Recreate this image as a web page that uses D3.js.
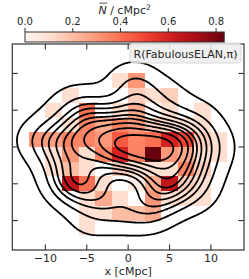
<!DOCTYPE html>
<html><head><meta charset="utf-8">
<script src="https://cdn.jsdelivr.net/npm/d3@7"></script>
<style>body{margin:0;background:#fff;} svg{display:block;font-family:"DejaVu Sans",sans-serif;}</style>
</head><body><svg id="c" width="249" height="279"></svg>
<script>
// ---- data ----
const binLeftX = [-12,-10,-8,-6,-4,-2,0,2,4,6,8,10];
const binBottomY = [8,6,4,2,0,-2,-4,-6,-8,-10,-12];
const rowY8   = [0,0,0,0,0,0.1,0.3,0,0,0,0,0];
const rowY6   = [0,0,0.1,0,0,0,0.15,0.1,0.15,0,0,0];
const rowY4   = [0,0.1,0,0.4,0,0.1,0.25,0,0.1,0,0.1,0];
const rowY2   = [0,0,0.1,0.35,0.25,0.35,0.3,0.15,0.1,0.1,0.1,0];
const rowY0   = [0.3,0.28,0.35,0.35,0.3,0.45,0.35,0.4,0.6,0.5,0.15,0.1];
const rowYm2  = [0,0.1,0.3,0.1,0.35,0.6,0.35,0.83,0.3,0.25,0.1,0.1];
const rowYm4  = [0,0.1,0.2,0.1,0,0.15,0.1,0.1,0.1,0.35,0.15,0];
const rowYm6  = [0,0,0.65,0.4,0.1,0,0.05,0.25,0.65,0.15,0.1,0];
const rowYm8  = [0,0,0,0.1,0.25,0.1,0,0.3,0.1,0.1,0.1,0];
const rowYm10 = [0,0,0,0.1,0.1,0.2,0.2,0.25,0,0,0,0];
const rowYm12 = [0,0,0,0.1,0,0,0,0,0,0,0,0];
const rows = [rowY8,rowY6,rowY4,rowY2,rowY0,rowYm2,rowYm4,rowYm6,rowYm8,rowYm10,rowYm12];
const binSize = 2;
const vmax = 0.834;
const xTicks = [-10,-5,0,5,10];
const xTickLabels = ["\u221210","\u22125","0","5","10"];
const yTicks = [-10,-5,0,5,10];
const cbarTicks = [0,0.2,0.4,0.6,0.8];
const cbarTickLabels = ["0.0","0.2","0.4","0.6","0.8"];
const legendLabel = "R(FabulousELAN,\u03c0)";
const xLabel = "x [cMpc]";
const kdeBandwidth = 2.15;
const kdeLevelCount = 11, kdeThresh = 0.04;

// ---- layout ----
const svg = d3.select("#c");
const M = {left:12.3, right:244, top:44, bottom:250};
const x = d3.scaleLinear().domain([-14,14]).range([M.left,M.right]);
const y = d3.scaleLinear().domain([-14,14]).range([M.bottom,M.top]);
const color = d3.scaleSequential(d3.interpolateReds).domain([0,vmax]);

svg.append("defs").append("clipPath").attr("id","clip").append("rect")
  .attr("x",M.left).attr("y",M.top).attr("width",M.right-M.left).attr("height",M.bottom-M.top);

// cells
const cells = [];
rows.forEach((r,i)=>r.forEach((v,j)=>{ if(v>0) cells.push({x0:binLeftX[j], y0:binBottomY[i], v}); }));
svg.append("g").selectAll("rect").data(cells).join("rect")
  .attr("x",d=>x(d.x0)).attr("y",d=>y(d.y0+binSize))
  .attr("width",d=>x(d.x0+binSize)-x(d.x0)).attr("height",d=>y(d.y0)-y(d.y0+binSize))
  .attr("fill",d=>color(d.v)).attr("shape-rendering","crispEdges");

// KDE contours from the binned values
const step = 0.2, g0 = -14, n = Math.round(28/step)+1;
const grid = new Float64Array(n*n);
for(let j=0;j<n;j++){ const gy=g0+j*step;
  for(let i=0;i<n;i++){ const gx=g0+i*step; let s=0;
    for(const c of cells){ const dx=gx-(c.x0+1), dy=gy-(c.y0+1);
      s+=c.v*Math.exp(-(dx*dx+dy*dy)/(2*kdeBandwidth*kdeBandwidth)); }
    grid[j*n+i]=s; } }
const sorted = Array.from(grid).sort((a,b)=>b-a);
const total = d3.sum(sorted);
let acc=0; const cum = sorted.map(v=>(acc+=v)/total);
const qs = d3.range(kdeLevelCount).map(k=>kdeThresh+(1-kdeThresh)*k/(kdeLevelCount-1));
const levels = qs.map(q=>{ const idx=d3.bisectLeft(cum,1-q); return sorted[Math.min(idx,sorted.length-1)]; })
  .filter(l=>l<sorted[0]*0.999).sort((a,b)=>a-b);
const contours = d3.contours().size([n,n]).thresholds(levels)(grid);
const proj = d3.geoTransform({point:function(c,r){ this.stream.point(x(g0+(c-0.5)*step), y(g0+(r-0.5)*step)); }});
const path = d3.geoPath(proj);
svg.append("g").attr("clip-path","url(#clip)").selectAll("path").data(contours).join("path")
  .attr("d",path).attr("fill","none").attr("stroke","#000").attr("stroke-width",1.8).attr("stroke-linejoin","round");

// axes frame + ticks (inward on all sides)
const axc = "#333";
const tl = 5.5;
const ax = svg.append("g").attr("stroke",axc).attr("stroke-width",1.1);
xTicks.forEach(t=>{
  ax.append("line").attr("x1",x(t)).attr("x2",x(t)).attr("y1",M.bottom).attr("y2",M.bottom-tl);
  ax.append("line").attr("x1",x(t)).attr("x2",x(t)).attr("y1",M.top).attr("y2",M.top+tl);
});
yTicks.forEach(t=>{
  ax.append("line").attr("y1",y(t)).attr("y2",y(t)).attr("x1",M.left).attr("x2",M.left+tl);
  ax.append("line").attr("y1",y(t)).attr("y2",y(t)).attr("x1",M.right).attr("x2",M.right-tl);
});
svg.append("rect").attr("x",M.left).attr("y",M.top).attr("width",M.right-M.left).attr("height",M.bottom-M.top)
  .attr("fill","none").attr("stroke",axc).attr("stroke-width",1.2);

svg.append("g").selectAll("text").data(xTicks).join("text")
  .attr("x",d=>x(d)).attr("y",262).attr("text-anchor","middle").attr("font-size",11).attr("fill","#262626")
  .text((d,i)=>xTickLabels[i]);
svg.append("text").attr("x",(M.left+M.right)/2).attr("y",274.5).attr("text-anchor","middle")
  .attr("font-size",11).attr("fill","#262626").text(xLabel);

// legend box
const lg = svg.append("g");
lg.append("rect").attr("x",130).attr("y",43).attr("width",111).attr("height",20).attr("rx",3)
  .attr("fill","#efefef").attr("fill-opacity",0.85).attr("stroke","#d0d0d0").attr("stroke-width",0.8);
lg.append("text").attr("x",133.5).attr("y",57.5).attr("font-size",11).attr("fill","#262626").text(legendLabel);

// colorbar
const cb = {x0:25, x1:224.2, y0:32, y1:42};
const cx = d3.scaleLinear().domain([0,vmax]).range([cb.x0,cb.x1]);
const grad = svg.select("defs").append("linearGradient").attr("id","g");
d3.range(0,1.0001,0.05).forEach(t=>grad.append("stop").attr("offset",t).attr("stop-color",d3.interpolateReds(t)));
svg.append("rect").attr("x",cb.x0).attr("y",cb.y0).attr("width",cb.x1-cb.x0).attr("height",cb.y1-cb.y0)
  .attr("fill","url(#g)").attr("stroke",axc).attr("stroke-width",1);
svg.append("g").selectAll("line").data(cbarTicks).join("line")
  .attr("x1",d=>cx(d)).attr("x2",d=>cx(d)).attr("y1",cb.y0).attr("y2",cb.y0-4).attr("stroke",axc).attr("stroke-width",1);
svg.append("g").selectAll("text").data(cbarTicks).join("text")
  .attr("x",d=>cx(d)).attr("y",24.5).attr("text-anchor","middle").attr("font-size",10).attr("fill","#262626")
  .text((d,i)=>cbarTickLabels[i]);
const title = svg.append("text").attr("x",(cb.x0+cb.x1)/2).attr("y",14).attr("text-anchor","middle")
  .attr("font-size",11).attr("fill","#262626");
title.append("tspan").attr("font-style","italic").text("N");
title.append("tspan").text(" / cMpc");
title.append("tspan").attr("font-size",7.5).attr("dy",-4.5).text("2");
const ext = title.node().getExtentOfChar(0);
svg.append("line").attr("x1",ext.x+1).attr("x2",ext.x+ext.width+0.5).attr("y1",3.2).attr("y2",3.2)
  .attr("stroke","#262626").attr("stroke-width",0.8);
</script></body></html>
